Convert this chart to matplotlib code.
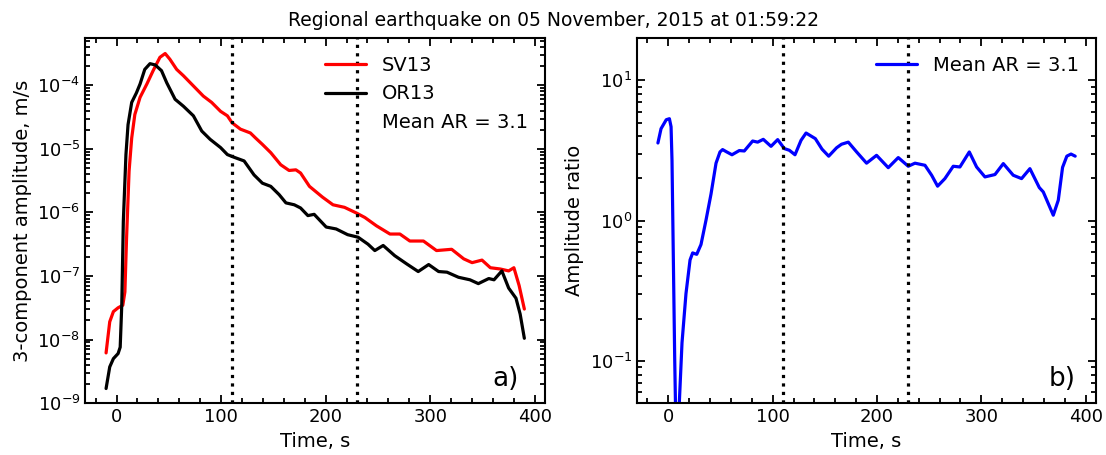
import numpy as np
import matplotlib
matplotlib.use("Agg")
import matplotlib.pyplot as plt

# ---- data ----
sv13_t = [-10, -6.5, -3, 1.5, 6, 8, 9.6, 12, 14.5, 17.5, 22.5, 29, 35, 41.5, 46.5, 51, 57.5, 64,
          73.5, 83, 91, 99.5, 106, 110.5, 118.5, 128, 133, 139.5, 147.5, 157, 165, 171.5, 176,
          184.5, 197, 207, 218, 229.5, 237.5, 248.5, 261.5, 271, 280.5, 293.5, 306, 320.5, 332,
          340, 349.5, 357.5, 367, 375, 380, 385, 390]
sv13_log10 = [-8.21, -7.72, -7.56, -7.50, -7.46, -7.25, -6.40, -5.35, -4.83, -4.46, -4.19, -3.98,
              -3.77, -3.56, -3.50, -3.59, -3.75, -3.85, -4.01, -4.17, -4.27, -4.41, -4.48, -4.59,
              -4.69, -4.75, -4.83, -4.93, -5.06, -5.25, -5.34, -5.33, -5.38, -5.59, -5.76, -5.88,
              -5.92, -6.01, -6.08, -6.21, -6.34, -6.34, -6.45, -6.45, -6.60, -6.58, -6.73, -6.79,
              -6.75, -6.87, -6.89, -6.92, -6.87, -7.15, -7.52]

or13_t = [-10, -6.5, -3, 1.5, 3.5, 5, 6.5, 9, 11, 14.5, 19, 22.5, 27, 32, 37, 43, 48, 56, 64,
          73.5, 81.5, 89.5, 99.5, 106, 112, 122, 131.5, 139.5, 147.5, 155.5, 162, 170, 176, 183,
          189, 200.5, 210, 221, 231, 240.5, 247, 255, 266, 277.5, 288.5, 298.5, 308, 316, 327,
          338, 346, 356, 361, 368.5, 375, 382, 386, 390]
or13_log10 = [-8.77, -8.43, -8.30, -8.22, -8.12, -7.46, -6.14, -5.09, -4.62, -4.27, -4.12, -3.98,
              -3.75, -3.66, -3.68, -3.77, -3.96, -4.22, -4.33, -4.48, -4.72, -4.85, -4.98, -5.09,
              -5.13, -5.19, -5.41, -5.54, -5.59, -5.72, -5.85, -5.88, -5.93, -6.05, -6.03, -6.23,
              -6.26, -6.35, -6.39, -6.50, -6.60, -6.52, -6.68, -6.81, -6.93, -6.82, -6.93, -6.94,
              -7.02, -7.06, -7.12, -7.04, -7.06, -6.92, -7.19, -7.35, -7.60, -7.98]

ratio_t = [-10, -7, -2, 1, 2.6, 3.5, 4.8, 6.1, 7.5, 8.5, 10.5, 13.1, 16.9, 20.8, 23.3, 27.2, 31.3,
           36.1, 40.9, 45.7, 49.5, 52, 56, 61, 68, 72.8, 80.8, 85.6, 91, 98.4, 104.8, 111.2, 116,
           121.4, 127.2, 132, 140.9, 147.3, 153.7, 161.3, 166, 172.5, 180.5, 190, 199.6, 210.8,
           220.4, 230, 236.4, 246, 252.4, 258.1, 265.1, 273.1, 279.5, 288.5, 295.5, 303.5, 313.1,
           321.1, 330.6, 338.6, 346.6, 355.6, 359.4, 369, 373.8, 377.9, 382, 386, 390]
ratio_log10 = [0.554, 0.656, 0.72, 0.727, 0.67, 0.43, -0.28, -0.99, -1.6, -1.8, -1.3, -0.87,
               -0.52, -0.28, -0.23, -0.24, -0.17, 0.004, 0.19, 0.41, 0.49, 0.507, 0.49, 0.47, 0.50,
               0.497, 0.568, 0.56, 0.58, 0.53, 0.578, 0.514, 0.502, 0.47, 0.573, 0.625, 0.585,
               0.51, 0.46, 0.52, 0.545, 0.56, 0.49, 0.41, 0.466, 0.378, 0.45, 0.388, 0.41, 0.395,
               0.324, 0.246, 0.30, 0.388, 0.383, 0.49, 0.383, 0.312, 0.329, 0.407, 0.324, 0.30,
               0.371, 0.236, 0.205, 0.039, 0.146, 0.38, 0.46, 0.475, 0.46]

window_lines = [110, 230]
title = "Regional earthquake on 05 November, 2015 at 01:59:22"
mean_ar_label = "Mean AR = 3.1"

# ---- figure ----
plt.rcParams['font.family'] = ['DejaVu Sans']
fig = plt.figure(figsize=(11.06, 4.55), dpi=100)
ax1 = fig.add_axes([0.077, 0.114, 0.416, 0.802])
ax2 = fig.add_axes([0.576, 0.114, 0.415, 0.802])

lw = 2.3
kw = dict(lw=lw, solid_joinstyle='round', solid_capstyle='round')
ax1.plot(sv13_t, 10 ** np.array(sv13_log10), color='red', label='SV13', **kw)
ax1.plot(or13_t, 10 ** np.array(or13_log10), color='black', label='OR13', **kw)
ax1.plot([], [], color='none', label=mean_ar_label)
ax2.plot(ratio_t, 10 ** np.array(ratio_log10), color='blue', label=mean_ar_label, **kw)

for ax in (ax1, ax2):
    ax.set_yscale('log')
    ax.set_xlim(-30, 410)
    for xv in window_lines:
        ax.axvline(xv, color='black', ls=':', lw=2.3)
    ax.set_xlabel('Time, s', fontsize=14)
    ax.set_xticks([0, 100, 200, 300, 400])
    ax.xaxis.set_minor_locator(matplotlib.ticker.MultipleLocator(20))
    ax.tick_params(which='both', direction='in', top=True, right=True, labelsize=13, width=1.3)
    ax.tick_params(which='major', length=6)
    ax.tick_params(which='minor', length=3.5)
    for s in ax.spines.values():
        s.set_linewidth(1.5)
    ax.legend(loc='upper right', frameon=False, fontsize=14, handlelength=2.1,
              borderaxespad=0.5)

ax1.set_ylim(1e-9, 5.5e-4)
ax2.set_ylim(0.05, 20)
ax1.set_ylabel('3-component amplitude, m/s', fontsize=14)
ax2.set_ylabel('Amplitude ratio', fontsize=14)

ax1.text(0.943, 0.03, 'a)', transform=ax1.transAxes, ha='right', va='bottom', fontsize=19)
ax2.text(0.955, 0.03, 'b)', transform=ax2.transAxes, ha='right', va='bottom', fontsize=19)

fig.suptitle(title, fontsize=13.5, y=0.975)

fig.savefig('out.png', dpi=100)
